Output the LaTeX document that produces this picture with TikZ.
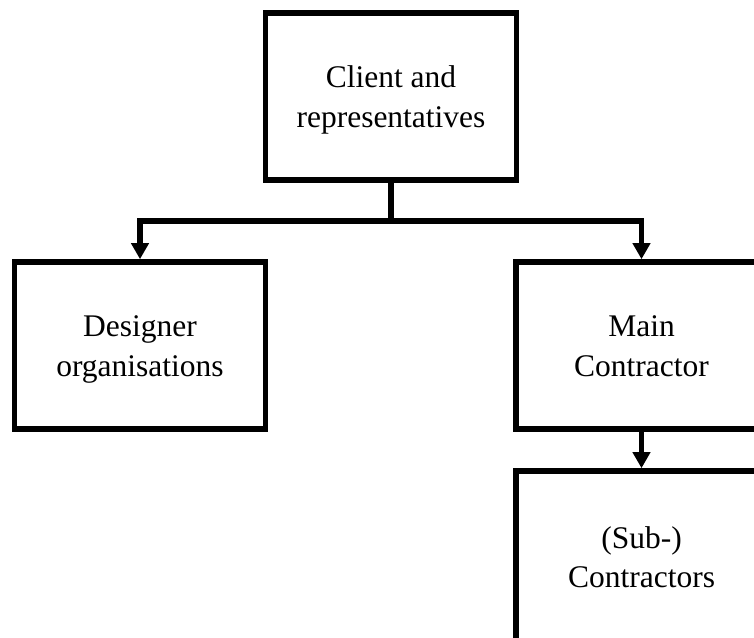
\documentclass[tikz,border=0pt]{standalone}
\usepackage{fontspec}
\setmainfont{Liberation Serif}
\usetikzlibrary{arrows.meta}
% uniform line box so every label sits at the same height in its box
\newcommand{\linestrut}{\rule[-0.22\baselineskip]{0pt}{\baselineskip}}
\begin{document}
\begin{tikzpicture}[x=1pt,y=-1pt,
  orgbox/.style={draw=black, line width=5.6pt, rectangle, align=center,
    minimum width=251pt, minimum height=167pt, inner sep=0pt,
    font=\fontsize{31.5}{39.5}\selectfont},
  link/.style={draw=black, line width=5.4pt},
  linkarrow/.style={link, -{Triangle[width=17pt,length=16pt]}}]
  \useasboundingbox (0,0) rectangle (754,637);
  \clip (0,0) rectangle (754,637);
  \fill[white] (0,0) rectangle (754,637);

  % organisation boxes
  \node[orgbox] (client)   at (391,96.5)    {\linestrut Client and\\\linestrut representatives};
  \node[orgbox] (designer) at (140,345.5)   {\linestrut Designer\\\linestrut organisations};
  \node[orgbox] (main)     at (641.5,345.5) {\linestrut Main\\\linestrut Contractor};
  \node[orgbox, minimum height=172pt] (sub) at (641.5,557)
    {\linestrut (Sub-)\\\linestrut Contractors};

  % branching connectors
  \coordinate (split) at (391,221);
  \draw[link] (client.south) -- (split);
  \draw[linkarrow] (split) -| (designer.north);
  \draw[linkarrow] (split) -| (main.north);
  \draw[linkarrow] (main.south) -- (sub.north);
\end{tikzpicture}
\end{document}
